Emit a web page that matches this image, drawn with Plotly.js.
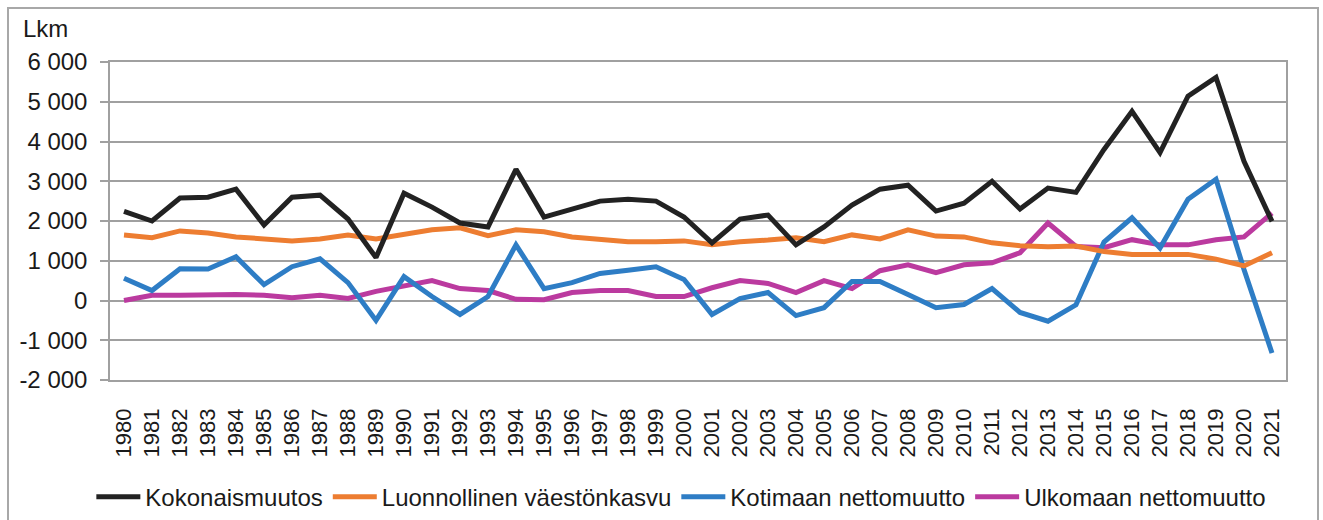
<!DOCTYPE html>
<html>
<head>
<meta charset="utf-8">
<script src="https://cdn.plot.ly/plotly-3.0.1.min.js"></script>
<style>
  html, body { margin: 0; padding: 0; background: #ffffff; }
  #frame { position: absolute; left: 7px; top: 7px; width: 1312px; height: 540px; border: 2px solid #a8a8a8; box-sizing: border-box; pointer-events: none; }
  #chart { position: absolute; left: 0; top: 0; width: 1323px; height: 520px; }
</style>
</head>
<body>
<div id="frame"></div>
<div id="chart"></div>
<script>
const years = ['1980','1981','1982','1983','1984','1985','1986','1987','1988','1989',
  '1990','1991','1992','1993','1994','1995','1996','1997','1998','1999',
  '2000','2001','2002','2003','2004','2005','2006','2007','2008','2009',
  '2010','2011','2012','2013','2014','2015','2016','2017','2018','2019',
  '2020','2021'];

const kokonaismuutos = [2240, 2000, 2580, 2600, 2800, 1900, 2600, 2650, 2050, 1080,
  2700, 2350, 1950, 1850, 3300, 2100, 2300, 2500, 2550, 2500,
  2100, 1450, 2050, 2150, 1400, 1850, 2400, 2800, 2900, 2250,
  2450, 3000, 2300, 2830, 2720, 3800, 4760, 3720, 5140, 5610,
  3500, 1990];

const luonnollinen = [1650, 1580, 1750, 1700, 1600, 1550, 1500, 1550, 1650, 1550,
  1650, 1780, 1830, 1630, 1780, 1730, 1600, 1550, 1480, 1480,
  1500, 1400, 1480, 1520, 1580, 1480, 1650, 1550, 1780, 1620,
  1600, 1450, 1380, 1350, 1370, 1230, 1160, 1160, 1160, 1040,
  870, 1200];

const kotimaan = [560, 250, 800, 790, 1100, 400, 850, 1050, 450, -500,
  600, 100, -350, 100, 1400, 300, 450, 680, 760, 850,
  530, -350, 50, 200, -380, -180, 480, 480, 150, -180,
  -100, 300, -300, -520, -110, 1470, 2080, 1320, 2550, 3050,
  780, -1320];

const ulkomaan = [0, 130, 130, 150, 150, 130, 70, 130, 50, 230,
  380, 500, 300, 250, 30, 20, 200, 250, 250, 100,
  100, 320, 500, 430, 200, 500, 300, 750, 900, 700,
  900, 950, 1200, 1950, 1360, 1330, 1530, 1400, 1400, 1530,
  1600, 2200];

const seriesNames = ['Kokonaismuutos', 'Luonnollinen väestönkasvu', 'Kotimaan nettomuutto', 'Ulkomaan nettomuutto'];
const seriesColors = ['#222222', '#ED7D31', '#2E7DC5', '#BB3A9F'];
const seriesValues = [kokonaismuutos, luonnollinen, kotimaan, ulkomaan];

const yTickVals = [-2000, -1000, 0, 1000, 2000, 3000, 4000, 5000, 6000];
const yTickText = ['-2 000', '-1 000', '0', '1 000', '2 000', '3 000', '4 000', '5 000', '6 000'];
const yUnit = 'Lkm';

const yMin = yTickVals[0], yMax = yTickVals[yTickVals.length - 1];

// draw order: put black on top
const order = [3, 2, 1, 0];
const traces = order.map(i => ({
  type: 'scatter', mode: 'lines',
  x: years, y: seriesValues[i],
  name: seriesNames[i],
  line: { color: seriesColors[i], width: 5 },
  legendrank: i + 1,
  xaxis: 'x', yaxis: 'y',
  hoverinfo: 'x+y+name'
}));

const fontFam = 'Liberation Sans, Arial, sans-serif';
const gridCol = '#a0a0a0';

const layout = {
  width: 1323, height: 520,
  margin: { l: 110, r: 37, t: 62, b: 140, autoexpand: false },
  paper_bgcolor: 'rgba(0,0,0,0)',
  plot_bgcolor: '#ffffff',
  font: { family: fontFam, color: '#1a1a1a', size: 22 },
  showlegend: true,
  legend: {
    orientation: 'h',
    xref: 'container', yref: 'container',
    x: 0.515, xanchor: 'center',
    y: 0.044, yanchor: 'middle',
    font: { family: fontFam, size: 24, color: '#1a1a1a' },
    traceorder: 'normal', itemwidth: 44,
    bgcolor: 'rgba(0,0,0,0)'
  },
  xaxis: {
    type: 'category', categoryarray: years, categoryorder: 'array',
    range: [-0.5, years.length - 0.5],
    showgrid: false, zeroline: false, automargin: false,
    showline: true, mirror: true, linecolor: gridCol, linewidth: 1.5,
    ticks: '', tickangle: -90, ticklabelstandoff: 18,
    tickfont: { family: fontFam, size: 22, color: '#1a1a1a' }
  },
  xaxis2: {
    overlaying: 'x', anchor: 'free',
    position: (0 - yMin) / (yMax - yMin),
    range: [-0.5, years.length - 0.5],
    tick0: -0.5, dtick: 1,
    ticks: 'outside', ticklen: 6, tickwidth: 1.5, tickcolor: gridCol,
    showticklabels: false, showgrid: false, zeroline: false, showline: false
  },
  yaxis: {
    range: [yMin, yMax], automargin: false,
    tickvals: yTickVals, ticktext: yTickText,
    showgrid: true, gridcolor: gridCol, gridwidth: 1.5,
    zeroline: false,
    showline: true, mirror: true, linecolor: gridCol, linewidth: 1.5,
    ticks: 'outside', ticklen: 8, tickwidth: 1.5, tickcolor: gridCol,
    ticklabelstandoff: 8,
    tickfont: { family: fontFam, size: 24, color: '#1a1a1a' }
  },
  annotations: [{
    xref: 'paper', yref: 'paper',
    x: -0.076, xanchor: 'left',
    y: 1.105, yanchor: 'middle',
    text: yUnit, showarrow: false,
    font: { family: fontFam, size: 24, color: '#1a1a1a' }
  }]
};

Plotly.newPlot('chart', traces, layout, { displayModeBar: false, responsive: false });
</script>
</body>
</html>
